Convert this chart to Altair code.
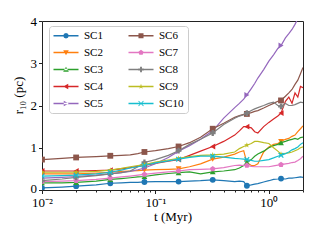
import altair as alt
import pandas as pd

# ---------------- data ----------------
T = [0.01, 0.015, 0.02, 0.03, 0.04, 0.05, 0.06, 0.07, 0.08, 0.1, 0.13, 0.16, 0.2, 0.25,
     0.32, 0.4, 0.5, 0.55, 0.6, 0.64, 0.7, 0.75, 0.8, 0.9, 1.0, 1.1, 1.2, 1.28, 1.4, 1.5,
     1.6, 1.7, 1.8, 1.9, 2.0]
MARK_T = [0.01, 0.02, 0.04, 0.08, 0.16, 0.32, 0.64, 1.28]

NAMES = ["SC1", "SC2", "SC3", "SC4", "SC5", "SC6", "SC7", "SC8", "SC9", "SC10"]

SC1 = [0.05, 0.07, 0.09, 0.12, 0.16, 0.17, 0.18, 0.18, 0.19, 0.2, 0.2, 0.2, 0.21, 0.22, 0.24, 0.22, 0.2, 0.21, 0.2, 0.1, 0.12, 0.14, 0.15, 0.19, 0.22, 0.25, 0.26, 0.27, 0.26, 0.28, 0.28, 0.29, 0.3, 0.31, 0.3]
SC2 = [0.38, 0.38, 0.38, 0.4, 0.42, 0.44, 0.45, 0.46, 0.47, 0.48, 0.49, 0.5, 0.55, 0.62, 0.73, 0.78, 0.85, 0.9, 0.93, 0.65, 0.58, 0.58, 0.62, 0.9, 1.02, 1.08, 1.1, 1.15, 1.2, 1.22, 1.27, 1.3, 1.38, 1.45, 1.52]
SC3 = [0.17, 0.17, 0.18, 0.21, 0.25, 0.27, 0.29, 0.31, 0.32, 0.36, 0.39, 0.41, 0.43, 0.38, 0.43, 0.45, 0.48, 0.52, 0.58, 0.65, 0.72, 0.8, 0.85, 0.92, 1.0, 1.05, 1.08, 1.12, 1.15, 1.18, 1.2, 1.22, 1.2, 1.24, 1.25]
SC4 = [0.45, 0.45, 0.45, 0.46, 0.47, 0.5, 0.53, 0.56, 0.58, 0.63, 0.68, 0.72, 0.82, 0.92, 1.03, 1.15, 1.3, 1.4, 1.5, 1.5, 1.47, 1.38, 1.35, 1.5, 1.6, 1.68, 1.75, 1.82, 2.1, 2.2, 2.05, 2.3, 2.2, 2.45, 2.42]
SC5 = [0.28, 0.3, 0.32, 0.35, 0.38, 0.41, 0.44, 0.48, 0.52, 0.62, 0.77, 0.92, 1.05, 1.2, 1.4, 1.7, 1.95, 2.05, 2.15, 2.25, 2.4, 2.52, 2.65, 2.85, 3.05, 3.2, 3.35, 3.42, 3.6, 3.7, 3.8, 3.92, 4.05, 4.15, 4.28]
SC6 = [0.72, 0.75, 0.77, 0.79, 0.81, 0.82, 0.83, 0.86, 0.9, 0.93, 0.98, 1.03, 1.12, 1.25, 1.45, 1.58, 1.72, 1.76, 1.79, 1.8, 1.83, 1.86, 1.88, 1.94, 2.0, 2.05, 2.1, 2.12, 2.22, 2.3, 2.38, 2.5, 2.6, 2.75, 2.9]
SC7 = [0.2, 0.21, 0.22, 0.25, 0.28, 0.31, 0.33, 0.35, 0.37, 0.4, 0.43, 0.45, 0.48, 0.49, 0.5, 0.53, 0.58, 0.59, 0.58, 0.58, 0.56, 0.55, 0.55, 0.55, 0.55, 0.57, 0.59, 0.6, 0.62, 0.63, 0.65, 0.66, 0.7, 0.74, 0.8]
SC8 = [0.22, 0.26, 0.3, 0.34, 0.38, 0.41, 0.45, 0.55, 0.65, 0.72, 0.82, 0.93, 1.08, 1.2, 1.35, 1.55, 1.7, 1.75, 1.78, 1.82, 1.88, 1.92, 1.95, 2.0, 2.05, 2.08, 2.0, 1.98, 2.05, 2.0, 2.0, 2.02, 2.05, 2.08, 2.07]
SC9 = [0.42, 0.42, 0.42, 0.44, 0.47, 0.51, 0.55, 0.58, 0.6, 0.66, 0.71, 0.75, 0.79, 0.82, 0.83, 0.85, 0.9, 0.98, 1.03, 1.06, 1.1, 1.15, 1.15, 1.12, 1.1, 1.0, 0.92, 0.85, 0.87, 0.88, 0.9, 0.93, 0.96, 1.0, 1.02]
SC10 = [0.33, 0.34, 0.35, 0.38, 0.42, 0.47, 0.52, 0.55, 0.58, 0.64, 0.69, 0.73, 0.77, 0.8, 0.8, 0.78, 0.75, 0.74, 0.73, 0.72, 0.7, 0.68, 0.68, 0.7, 0.72, 0.76, 0.8, 0.82, 0.86, 0.9, 0.95, 0.98, 1.02, 1.08, 1.12]

SERIES = [SC1, SC2, SC3, SC4, SC5, SC6, SC7, SC8, SC9, SC10]
COLORS = ["#1f77b4", "#ff7f0e", "#2ca02c", "#d62728", "#9467bd",
          "#8c564b", "#e377c2", "#7f7f7f", "#bcbd22", "#17becf"]

rows = []
for name, vals in zip(NAMES, SERIES):
    for t, v in zip(T, vals):
        rows.append({"series": name, "t": t, "r": v, "marker": t in MARK_T})
df = pd.DataFrame(rows)

# ---------------- marker geometry ----------------
STAR = "M0,-1L0.223,-0.307L0.951,-0.309L0.361,0.117L0.588,0.809L0,0.38L-0.588,0.809L-0.361,0.117L-0.951,-0.309L-0.223,-0.307Z"
PENT = "M0,-1L0.951,-0.309L0.588,0.809L-0.588,0.809L-0.951,-0.309Z"
XSTROKE = "M-1,-1L1,1M-1,1L1,-1"

MARKERS = ["circle", "triangle-down", "triangle-up", "triangle-left", "triangle-right",
           "square", PENT, "cross", STAR, XSTROKE]

POLY = {
    "circle": [(0.0, -1.0), (0.707, -0.707), (1.0, 0.0), (0.707, 0.707), (0.0, 1.0), (-0.707, 0.707), (-1.0, 0.0), (-0.707, -0.707)],
    "tdown": [(-1.0, -0.8), (1.0, -0.8), (0.0, 1.0)],
    "tup": [(-1.0, 0.8), (1.0, 0.8), (0.0, -1.0)],
    "tleft": [(0.8, -1.0), (0.8, 1.0), (-1.0, 0.0)],
    "tright": [(-0.8, -1.0), (-0.8, 1.0), (1.0, 0.0)],
    "square": [(-0.9, -0.9), (0.9, -0.9), (0.9, 0.9), (-0.9, 0.9)],
    "pent": [(0, -1), (0.951, -0.309), (0.588, 0.809), (-0.588, 0.809), (-0.951, -0.309)],
    "cross": [(-0.33, -1), (0.33, -1), (0.33, -0.33), (1, -0.33), (1, 0.33), (0.33, 0.33), (0.33, 1), (-0.33, 1), (-0.33, 0.33), (-1, 0.33), (-1, -0.33), (-0.33, -0.33)],
    "star": [(0, -1), (0.223, -0.307), (0.951, -0.309), (0.361, 0.117), (0.588, 0.809), (0, 0.38), (-0.588, 0.809), (-0.361, 0.117), (-0.951, -0.309), (-0.223, -0.307)],
}
XPOLY = [[(-1, -0.78), (-0.78, -1), (1, 0.78), (0.78, 1)], [(0.78, -1), (1, -0.78), (-0.78, 1), (-1, 0.78)]]
LEG_KEYS = ["circle", "tdown", "tup", "tleft", "tright", "square", "pent", "cross", "star", "x"]

# legend symbol: unit = 5 px (symbolSize 100); line spans -1..4 units, marker at 1.5
CX = 1.5


def poly_path(pts, s):
    return "M" + "L".join(f"{CX + x * s:.3f},{y * s:.3f}" for x, y in pts) + "Z"


def legend_path(key, s=0.56):
    line = "M-1,-0.13L4,-0.13L4,0.13L-1,0.13Z"
    if key == "x":
        mk = "".join(poly_path(p, s) for p in XPOLY)
    else:
        mk = poly_path(POLY[key], s)
    return line + mk


LEG_PATHS = [legend_path(k) for k in LEG_KEYS]

FONT = "Liberation Serif"

xscale = alt.Scale(type="log", domain=[0.01, 2], nice=False)
yscale = alt.Scale(domain=[0, 4], nice=False)

MAJOR = [0.01, 0.1, 1]
MINOR = [0.02, 0.03, 0.04, 0.05, 0.06, 0.07, 0.08, 0.09,
         0.2, 0.3, 0.4, 0.5, 0.6, 0.7, 0.8, 0.9, 2]

xaxis = alt.Axis(
    values=MAJOR + MINOR,
    labelExpr="datum.value == 0.01 ? '10⁻²' : datum.value == 0.1 ? '10⁻¹' : datum.value == 1 ? '10⁰' : ''",
    tickSize={"condition": {"test": "datum.value == 0.01 || datum.value == 0.1 || datum.value == 1", "value": 3.5}, "value": 2},
    title="t (Myr)", grid=False, domain=False, labelOverlap=False, labelFlush=False,
    labelPadding=3, titlePadding=1,
)
yaxis = alt.Axis(values=[0, 1, 2, 3, 4], title="r₁₀ (pc)", grid=False, domain=False,
                 tickSize=3.5, labelPadding=2, titlePadding=5, titleY=74,
                 labelOffset={"condition": {"test": "datum.value == 0", "value": -2}, "value": 0})

layers = []
for i, name in enumerate(NAMES):
    sub = alt.Chart().transform_filter(alt.datum.series == name)
    line = sub.mark_line(color=COLORS[i], strokeWidth=1.2, clip=True)
    shape = MARKERS[i]
    if name == "SC10":
        pm = sub.mark_point(shape=shape, filled=False, stroke=COLORS[i], strokeWidth=1.2,
                            size=22, opacity=1, clip=True)
    else:
        pm = sub.mark_point(shape=shape, filled=True, fill=COLORS[i], size=34,
                            opacity=1, strokeWidth=0, clip=True)
    pts = pm.transform_filter(alt.datum.marker == True)
    layers += [line, pts]

leg = alt.Legend(
    title=None, orient="none", legendX=7, legendY=5, columns=2,
    symbolSize=100, symbolStrokeWidth=0, symbolOpacity=1,
    labelFont=FONT, labelFontSize=11, labelColor="#000", labelOffset=20,
    rowPadding=5, columnPadding=25, padding=4,
    strokeColor="#cccccc", fillColor="white", cornerRadius=3,
)
legend_layer = alt.Chart().transform_filter("false").mark_point(filled=True, opacity=1).encode(
    color=alt.Color("series:N", scale=alt.Scale(domain=NAMES, range=COLORS), legend=leg),
    shape=alt.Shape("series:N", scale=alt.Scale(domain=NAMES, range=LEG_PATHS), legend=leg),
)
layers.append(legend_layer)

chart = alt.layer(*layers, data=df).encode(
    x=alt.X("t:Q", scale=xscale, axis=xaxis),
    y=alt.Y("r:Q", scale=yscale, axis=yaxis),
).properties(
    width=261, height=169,
    autosize=alt.AutoSizeParams(type="none"),
    padding={"left": 34, "top": 13, "right": 9, "bottom": 42},
    background="white",
).configure_view(stroke="#222", strokeWidth=1).configure_axis(
    labelFont=FONT, titleFont=FONT, labelFontSize=13, titleFontSize=13,
    labelColor="#000", titleColor="#000", tickColor="#222", titleFontWeight="normal",
)

chart.save("out.html", embed_options={"renderer": "svg", "actions": False})
